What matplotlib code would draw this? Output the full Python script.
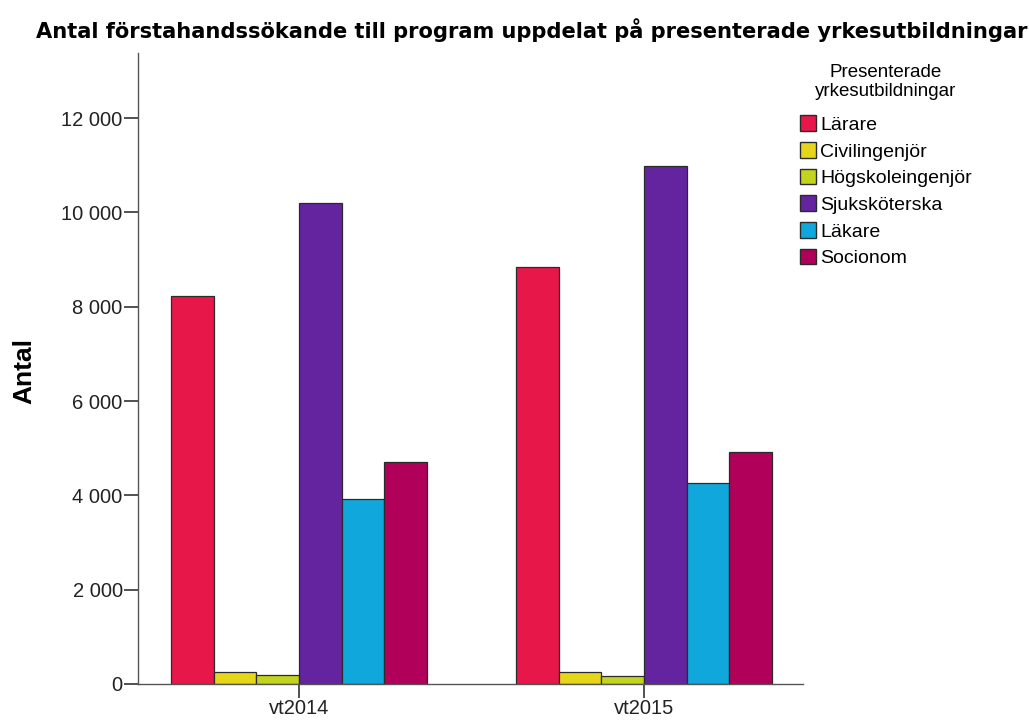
import numpy as np
import matplotlib.pyplot as plt
from matplotlib.patches import Patch
from matplotlib.ticker import FuncFormatter

# data
terms = ['vt2014', 'vt2015']
programs = ['Lärare', 'Civilingenjör', 'Högskoleingenjör', 'Sjuksköterska', 'Läkare', 'Socionom']
larare = [8230, 8850]
civilingenjor = [250, 260]
hogskoleingenjor = [180, 160]
sjukskoterska = [10190, 10980]
lakare = [3930, 4270]
socionom = [4700, 4910]
colors = ['#E8174A', '#E6D619', '#C2D41E', '#6424A0', '#10A8DC', '#B0005A']

series = [larare, civilingenjor, hogskoleingenjor, sjukskoterska, lakare, socionom]

fig = plt.figure(figsize=(10.29, 7.26), dpi=100)
ax = fig.add_axes([0.1341, 0.0579, 0.7804 - 0.1341, 0.927 - 0.0579])

x = np.arange(len(terms))
w = 0.1237
for i, vals in enumerate(series):
    ax.bar(x + (i - 2.5) * w, vals, width=w, color=colors[i],
           edgecolor='#2a2a2a', linewidth=0.9, zorder=2)

ax.set_xlim(-0.467, 1.461)
ax.set_ylim(0, 13380)
ax.set_yticks(np.arange(0, 12001, 2000))
ax.yaxis.set_major_formatter(FuncFormatter(lambda v, p: f'{int(v):,}'.replace(',', ' ')))
ax.set_xticks(x)
ax.set_xticklabels(terms)

for s in ['top', 'right']:
    ax.spines[s].set_visible(False)
for s in ['left', 'bottom']:
    ax.spines[s].set_color('#555555')
    ax.spines[s].set_linewidth(1.0)

ax.tick_params(axis='y', direction='out', length=10, width=1.2, color='#333333',
               labelsize=14.5, pad=1, labelcolor='#222222')
ax.tick_params(axis='x', direction='out', length=10, width=1.2, color='#333333',
               labelsize=14.5, pad=1, labelcolor='#222222')
for lab in ax.get_xticklabels() + ax.get_yticklabels():
    lab.set_fontfamily('Liberation Sans')

fig.text(24 / 1029, 1 - 371 / 726, 'Antal', rotation=90, ha='center', va='center',
         fontsize=19, fontweight='bold', family='Liberation Sans')

fig.text(532 / 1029, 1 - 30 / 726,
         'Antal förstahandssökande till program uppdelat på presenterade yrkesutbildningar',
         ha='center', va='center', fontsize=15.1, fontweight='bold', family='DejaVu Sans')

handles = [Patch(facecolor=c, edgecolor='#2a2a2a', linewidth=1.0) for c in colors]
leg = fig.legend(handles, programs, loc='upper left',
                 bbox_to_anchor=(786 / 1029, 1 - 50 / 726),
                 title='Presenterade\nyrkesutbildningar', frameon=False,
                 prop={'family': 'Liberation Sans', 'size': 14},
                 title_fontproperties={'family': 'Liberation Sans', 'size': 13.5},
                 handlelength=0.85, handleheight=0.85, handletextpad=0.2,
                 labelspacing=0.42, borderpad=0.2)
leg.get_title().set_multialignment('center')
leg._legend_box.sep = 11

fig.savefig('out.png', dpi=100, facecolor='white')
